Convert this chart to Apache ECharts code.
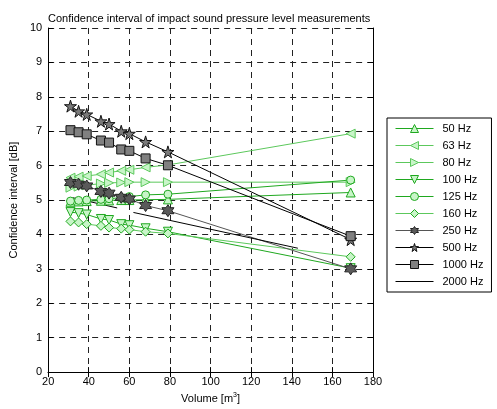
<!DOCTYPE html>
<html>
<head>
<meta charset="utf-8">
<script src="https://cdn.jsdelivr.net/npm/echarts/dist/echarts.min.js"></script>
<style>
html,body{margin:0;padding:0;background:#fff;}
#chart{width:497px;height:409px;}
</style>
</head>
<body>
<div id="chart"></div>
<script>
//测量体积 (m3)
var volume=[31,35,39,46,50,56,60,68,79,169];
//各频率置信区间 (dB)
var hz50=[4.95,4.96,4.97,4.98,4.99,5.0,5.0,5.01,5.02,5.22];
var hz63=[5.65,5.68,5.70,5.75,5.80,5.85,5.88,5.95,6.02,6.93];
var hz80=[5.36,5.39,5.43,5.48,5.50,5.51,5.52,5.52,5.52,5.52];
var hz100=[4.65,4.62,4.58,4.45,4.42,4.30,4.27,4.18,4.08,3.02];
var hz125=[4.97,4.99,5.00,5.02,5.04,5.07,5.10,5.15,5.17,5.58];
var hz160=[4.38,4.35,4.30,4.25,4.20,4.17,4.14,4.08,4.03,3.35];
var hz250=[5.51,5.46,5.41,5.25,5.20,5.08,5.03,4.84,4.69,3.00];
var hz500=[7.73,7.58,7.49,7.29,7.21,7.00,6.93,6.69,6.40,3.85];
var hz1000=[7.03,6.97,6.91,6.73,6.67,6.47,6.43,6.21,6.01,3.95];
//2000 Hz 只有两段线
var vol2000=[32,54,null,62,143];
var hz2000=[5.07,4.77,null,4.64,3.60];

var star='path://M50,0 L61,35 L98,35 L68,57 L79,91 L50,70 L21,91 L32,57 L2,35 L39,35 Z';
var hexa='path://M50,0 L64,25 L93,25 L79,50 L93,75 L64,75 L50,100 L36,75 L7,75 L21,50 L7,25 L36,25 Z';

function pairs(xs,ys){
    var out=[];
    for(let i=0;i<xs.length;i++){
        out.push(xs[i]===null?'-':[xs[i],ys[i]]);
    }
    return out;
}

function mk(name,ys,line,symbol,rot,fill,edge,size){
    return {
        name:name,
        type:'line',
        data:pairs(volume,ys),
        symbol:symbol,
        symbolRotate:rot,
        symbolSize:size,
        lineStyle:{color:line,width:1},
        itemStyle:{color:fill,borderColor:edge,borderWidth:1},
        emphasis:{disabled:true}
    };
}

var dark='#1fa81f',light='#5cc85c',pale='#c8f5c8';
var series=[
    mk('50 Hz',hz50,dark,'triangle',0,pale,dark,9),
    mk('63 Hz',hz63,light,'triangle',90,pale,light,9),
    mk('80 Hz',hz80,light,'triangle',-90,pale,light,9),
    mk('100 Hz',hz100,dark,'triangle',180,pale,dark,9),
    mk('125 Hz',hz125,dark,'circle',0,pale,dark,8),
    mk('160 Hz',hz160,light,'diamond',0,pale,dark,9),
    mk('250 Hz',hz250,'#555',hexa,0,'#5a5a5a','#222',12),
    mk('500 Hz',hz500,'#000',star,0,'#7a7a7a','#111',12),
    mk('1000 Hz',hz1000,'#000','rect',0,'#808080','#111',9),
    {
        name:'2000 Hz',
        type:'line',
        data:pairs(vol2000,hz2000),
        symbol:'none',
        connectNulls:false,
        lineStyle:{color:'#000',width:1},
        itemStyle:{color:'#000'},
        emphasis:{disabled:true}
    }
];

var legendData=series.map(function(s){
    if(s.symbol==='none'){
        return {name:s.name,itemStyle:{opacity:0}};
    }
    return {name:s.name};
});

var tick={inside:true,length:5,lineStyle:{color:'#000'}};
var axl={show:true,lineStyle:{color:'#000',width:1}};
var grid={lineStyle:{color:'#222',type:[6,5],width:1}};

var option={
    animation:false,
    textStyle:{fontFamily:'Liberation Sans, Arial, sans-serif'},
    title:{
        text:'Confidence interval of impact sound pressure level measurements',
        left:43,
        top:8,
        textStyle:{fontSize:11,fontWeight:'normal',color:'#000'}
    },
    legend:{
        orient:'vertical',
        left:387,
        top:118,
        padding:[5,8,5,8],
        itemWidth:38,
        itemHeight:10,
        itemGap:6,
        backgroundColor:'#fff',
        borderColor:'#000',
        borderWidth:1,
        lineStyle:{width:1},
        itemStyle:{borderWidth:1},
        textStyle:{fontSize:11,color:'#000',padding:[0,0,0,4]},
        data:legendData
    },
    grid:{left:48,right:124,top:28,bottom:35},
    xAxis:[{
        type:'value',min:20,max:180,interval:20,
        name:'Volume [m{sup|3}]',
        nameLocation:'middle',
        nameGap:18,
        nameTextStyle:{fontSize:11,color:'#000',rich:{sup:{fontSize:7,verticalAlign:'top',padding:[0,0,6,0]}}},
        axisLine:axl,axisTick:tick,
        axisLabel:{color:'#000',fontSize:11,margin:4},
        splitLine:grid
    },{
        type:'value',min:20,max:180,interval:20,position:'top',
        axisLine:axl,axisTick:tick,axisLabel:{show:false},splitLine:{show:false}
    }],
    yAxis:[{
        type:'value',min:0,max:10,interval:1,
        name:'Confidence interval [dB]',
        nameLocation:'middle',
        nameGap:20,
        nameTextStyle:{fontSize:11,color:'#000'},
        axisLine:axl,axisTick:tick,
        axisLabel:{color:'#000',fontSize:11,margin:6},
        splitLine:grid
    },{
        type:'value',min:0,max:10,interval:1,position:'right',
        axisLine:axl,axisTick:tick,axisLabel:{show:false},splitLine:{show:false}
    }],
    series:series
};

var myChart=echarts.init(document.getElementById('chart'),null,{renderer:'canvas'});
myChart.setOption(option);
</script>
</body>
</html>
